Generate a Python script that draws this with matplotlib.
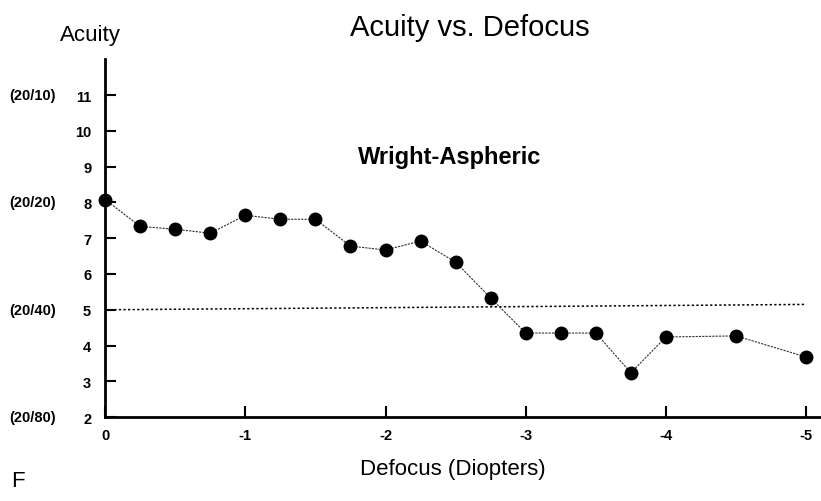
import matplotlib
matplotlib.use("Agg")
import matplotlib.pyplot as plt

plt.rcParams['font.family'] = ['Liberation Sans', 'DejaVu Sans']

defocus = [0, -0.25, -0.5, -0.75, -1, -1.25, -1.5, -1.75, -2, -2.25, -2.5,
           -2.75, -3, -3.25, -3.5, -3.75, -4, -4.5, -5]
acuity = [8.08, 7.33, 7.25, 7.14, 7.64, 7.53, 7.53, 6.78, 6.67, 6.92, 6.33,
          5.33, 4.35, 4.35, 4.35, 3.24, 4.24, 4.27, 3.68]
ref_x = [0, -5]
ref_y = [5.0, 5.15]
yticks = [2, 3, 4, 5, 6, 7, 8, 9, 10, 11]
xticks = [0, -1, -2, -3, -4, -5]
xticklabels = ['0', '-1', '-2', '-3', '-4', '-5']
snellen_vals = [11, 8, 5, 2]
snellen_labels = ['(20/10)', '(20/20)', '(20/40)', '(20/80)']

fig = plt.figure(figsize=(8.21, 5.02), dpi=100)
ax = fig.add_axes([0.128, 0.167, 0.871, 0.713])

ax.plot(ref_x, ref_y, color='black', linestyle=(0, (1.5, 1.5)), linewidth=1.1)
ax.plot(defocus, acuity, color='#333333', linestyle=(0, (2, 1)), linewidth=0.8,
        marker='o', markersize=9, markerfacecolor='black', markeredgecolor='black',
        clip_on=False, zorder=3)

ax.set_xlim(0, -5.1)
ax.set_ylim(2, 12)
ax.set_yticks(yticks)
ax.set_yticklabels([str(v) for v in yticks], fontweight='bold', fontsize=10.5)
ax.set_xticks(xticks)
ax.set_xticklabels(xticklabels, fontweight='bold', fontsize=10.5)
ax.tick_params(axis='y', direction='in', length=8, width=1.5, pad=10)
ax.tick_params(axis='x', direction='in', length=8, width=1.5, pad=8)

for s in ['top', 'right']:
    ax.spines[s].set_visible(False)
for s in ['left', 'bottom']:
    ax.spines[s].set_linewidth(2)

for v, lab in zip(snellen_vals, snellen_labels):
    ax.annotate(lab, xy=(0, v), xycoords=('figure fraction', 'data'),
                xytext=(7, 0), textcoords='offset points',
                ha='left', va='center', fontsize=10.5, fontweight='bold')

fig.text(0.572, 0.945, 'Acuity vs. Defocus', ha='center', va='center', fontsize=21)
fig.text(0.11, 0.93, 'Acuity', ha='center', va='center', fontsize=16)
ax.text(-2.46, 9.27, 'Wright-Aspheric', ha='center', va='center', fontsize=17,
        fontweight='semibold')
fig.text(0.552, 0.064, 'Defocus (Diopters)', ha='center', va='center', fontsize=16)
fig.text(0.013, 0.04, 'F', ha='left', va='center', fontsize=16)

fig.savefig('out.png', dpi=100)
